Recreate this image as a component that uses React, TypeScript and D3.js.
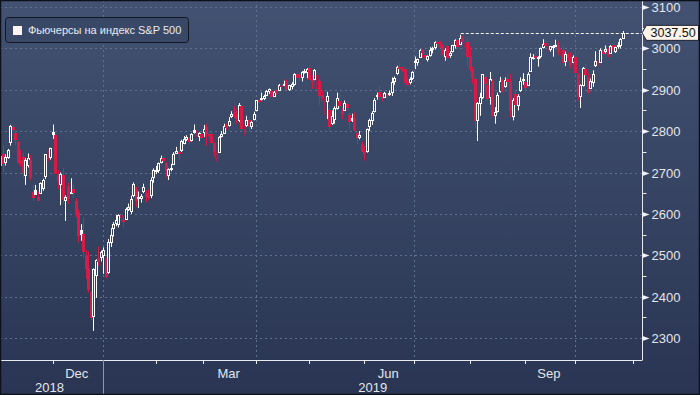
import React from "react";
import * as d3 from "d3";

// S&P 500 futures, daily candles, Nov 2018 - Oct 2019 (one row per month)
const opens = [
  [2717,2745,2726,2738,2774,2810,2795,2773,2730,2737,2693,2718,2730,2654,2657,2640,2650,2663,2692,2737,2737],
  [2797,2790,2693,2672,2695,2633,2667,2653,2660,2630,2604,2560,2551,2500,2468,2410,2352,2452,2494,2496],
  [2500,2490,2460,2533,2565,2578,2576,2592,2584,2588,2612,2608,2645,2660,2640,2638,2655,2650,2645,2645,2688],
  [2705,2706,2725,2736,2722,2695,2712,2720,2748,2750,2755,2772,2782,2784,2778,2803,2794,2788,2793],
  [2797,2810,2793,2792,2771,2735,2750,2788,2796,2814,2815,2836,2846,2840,2826,2860,2805,2815,2828,2812,2830],
  [2850,2875,2880,2881,2888,2896,2898,2886,2897,2900,2911,2913,2920,2903,2908,2914,2938,2935,2932,2944,2944],
  [2952,2927,2926,2905,2920,2888,2870,2873,2850,2820,2830,2856,2872,2850,2852,2865,2840,2832,2832,2795,2785,2770],
  [2752,2752,2812,2826,2848,2885,2895,2884,2883,2888,2893,2895,2920,2940,2955,2952,2950,2920,2918,2928],
  [2970,2968,2980,2995,2985,2975,2985,3000,3003,3016,3014,3008,2982,3005,2983,2994,3008,3020,3010,3026,3005,3016],
  [2982,2950,2925,2826,2868,2883,2930,2912,2882,2921,2840,2848,2898,2922,2910,2925,2922,2837,2890,2864,2900,2925],
  [2919,2912,2945,2978,2982,2976,2982,3004,3012,2995,2998,3005,3008,3010,2985,2995,2970,2986,2982,2968],
  [2980,2938,2885,2912,2950,2930,2905,2918,2960,2965,2968,2994,2993,2999,2990,3007,2994,3005,3008,3025],
].flat();

const highs = [
  [2741,2767,2744,2757,2815,2815,2797,2776,2754,2747,2735,2746,2742,2670,2670,2654,2676,2685,2744,2754,2760],
  [2816,2793,2706,2700,2712,2645,2675,2686,2672,2638,2611,2575,2592,2512,2509,2413,2468,2490,2521,2511],
  [2519,2494,2539,2566,2580,2597,2599,2600,2591,2615,2625,2644,2676,2665,2654,2648,2673,2656,2660,2688,2710],
  [2716,2724,2741,2739,2725,2710,2721,2749,2762,2760,2779,2788,2790,2786,2795,2816,2803,2797,2796],
  [2815,2818,2798,2795,2774,2752,2788,2800,2818,2818,2834,2848,2860,2852,2868,2864,2815,2837,2833,2825,2847],
  [2875,2878,2893,2888,2899,2903,2900,2897,2900,2914,2914,2922,2925,2912,2918,2940,2941,2940,2945,2950,2952],
  [2960,2935,2950,2938,2924,2898,2881,2895,2857,2850,2860,2893,2890,2856,2874,2870,2843,2842,2845,2798,2800,2775],
  [2764,2806,2830,2848,2880,2893,2910,2888,2895,2895,2898,2930,2932,2958,2965,2955,2951,2933,2930,2945],
  [2980,2975,2998,2997,2990,2983,3003,3004,3017,3020,3017,3010,3000,3008,2993,3008,3022,3024,3033,3030,3020,3027],
  [3005,2955,2928,2870,2893,2938,2935,2920,2943,2925,2858,2893,2931,2925,2930,2940,2938,2880,2898,2889,2930,2940],
  [2925,2942,2988,2986,2991,2981,3002,3022,3021,3005,3006,3008,3021,3017,3000,3008,2992,2990,2990,2983],
  [2995,2941,2913,2955,2962,2939,2927,2947,2993,2972,3000,2997,3007,3001,3008,3014,3004,3015,3025,3042],
].flat();

const lows = [
  [2708,2700,2717,2733,2765,2796,2765,2722,2714,2685,2670,2712,2681,2631,2649,2631,2649,2656,2684,2727,2731],
  [2781,2697,2660,2621,2624,2583,2624,2650,2638,2592,2531,2535,2494,2443,2410,2343,2317,2397,2474,2485],
  [2455,2445,2455,2520,2545,2570,2567,2582,2567,2585,2607,2600,2640,2617,2614,2627,2650,2628,2633,2638,2675],
  [2696,2699,2722,2726,2688,2682,2703,2718,2745,2730,2750,2768,2776,2767,2775,2794,2786,2776,2780],
  [2786,2765,2782,2771,2738,2726,2748,2785,2794,2803,2811,2832,2832,2818,2822,2801,2789,2810,2799,2805,2826],
  [2848,2868,2874,2875,2885,2890,2882,2884,2888,2898,2902,2909,2899,2897,2901,2910,2929,2920,2920,2939,2928],
  [2925,2902,2923,2896,2863,2874,2839,2829,2800,2815,2818,2852,2855,2829,2850,2850,2806,2822,2800,2768,2780,2750],
  [2729,2748,2800,2815,2845,2876,2877,2872,2881,2877,2885,2885,2912,2936,2948,2943,2915,2911,2913,2924],
  [2950,2958,2979,2978,2973,2968,2980,2988,2997,3008,3001,2985,2970,2977,2977,2990,3000,3000,3008,3015,2998,2957],
  [2945,2915,2808,2776,2837,2878,2895,2873,2864,2835,2818,2845,2893,2895,2905,2906,2834,2826,2860,2850,2895,2912],
  [2891,2910,2944,2973,2970,2956,2976,3000,3004,2993,2992,2980,3003,2985,2983,2958,2957,2970,2952,2965],
  [2938,2874,2856,2908,2933,2891,2902,2907,2955,2958,2966,2984,2988,2979,2988,2993,2989,2999,3000,3023],
].flat();

const closes = [
  [2740,2723,2738,2755,2813,2806,2781,2726,2722,2702,2730,2736,2690,2641,2649,2633,2674,2682,2744,2738,2760],
  [2793,2700,2683,2696,2635,2640,2638,2654,2653,2600,2550,2551,2510,2469,2418,2351,2467,2489,2487,2509],
  [2512,2449,2533,2550,2576,2586,2598,2597,2583,2611,2617,2637,2672,2634,2639,2643,2665,2644,2641,2682,2705],
  [2707,2723,2736,2731,2706,2709,2710,2745,2752,2746,2777,2780,2785,2775,2794,2797,2794,2795,2786],
  [2806,2793,2791,2773,2751,2746,2786,2794,2813,2810,2825,2842,2840,2832,2862,2808,2806,2826,2812,2823,2842],
  [2875,2874,2881,2886,2898,2902,2886,2895,2894,2912,2911,2913,2905,2911,2913,2938,2931,2930,2944,2946,2950],
  [2927,2921,2948,2936,2888,2883,2874,2884,2813,2837,2855,2881,2862,2843,2867,2859,2824,2828,2804,2785,2790,2753],
  [2746,2805,2828,2845,2875,2888,2886,2880,2893,2890,2891,2919,2928,2955,2952,2947,2919,2915,2926,2944],
  [2966,2975,2997,2991,2978,2981,2995,3000,3016,3015,3006,2986,2997,2979,2988,3007,3021,3005,3026,3019,3014,2982],
  [2952,2931,2826,2867,2882,2937,2917,2881,2925,2840,2846,2887,2922,2898,2923,2920,2850,2876,2865,2886,2922,2924],
  [2906,2938,2978,2980,2979,2980,3001,3010,3008,2998,3005,3006,3007,2993,2992,2968,2986,2978,2962,2978],
  [2942,2888,2912,2953,2938,2894,2920,2939,2969,2966,2996,2989,2998,2986,3006,2995,3004,3009,3022,3037.5],
].flat();

const holidays = ["2018-11-22", "2018-12-25", "2019-01-01", "2019-01-21", "2019-02-18",
  "2019-04-19", "2019-05-27", "2019-07-04", "2019-09-02"];
const yTicks = [2300, 2400, 2500, 2600, 2700, 2800, 2900, 3000, 3100];
const labelMonths = ["Dec", "Mar", "Jun", "Sep"];
const lastPrice = 3037.5;
const legendLabel = "Фьючерсы на индекс S&P 500";

const W = 700;
const H = 395;
const AX = 642.5; // right axis
const AY = 360; // bottom axis
const FONT = "'Liberation Sans', Arial, sans-serif";
const fmtDay = d3.utcFormat("%Y-%m-%d");

// trading calendar (index axis, like the terminal)
const days = d3.utcDays(new Date(Date.UTC(2018, 10, 1)), new Date(Date.UTC(2019, 10, 1)))
  .filter((d) => d.getUTCDay() % 6 !== 0 && !holidays.includes(fmtDay(d)));

export default function App() {
  const x = d3.scaleLinear().domain([0, 248]).range([1.2, 624]);
  const y = d3.scaleLinear().domain([2300, 3100]).range([338, 7]);

  // month boundaries
  const bounds: { i: number; d: Date }[] = [];
  days.forEach((d, i) => {
    if (i > 0 && d.getUTCMonth() !== days[i - 1].getUTCMonth()) bounds.push({ i, d });
  });
  bounds.push({ i: days.length, d: new Date(Date.UTC(2019, 10, 1)) });
  const fmtMon = d3.utcFormat("%b");
  const monthLabels = bounds.slice(0, -1).map((b, k) => {
    const end = bounds[k + 1].i;
    return { name: fmtMon(b.d), mid: (b.i + end - 1) / 2 };
  }).filter((m) => labelMonths.includes(m.name));
  const quarterLines = bounds.filter((b) => b.d.getUTCMonth() % 3 === 0 && b.i < days.length);
  const janX = x(quarterLines[0].i - 0.5);

  const candles = closes.map((c, i) => {
    const o = opens[i];
    const prev = i > 0 ? closes[i - 1] : o;
    const up = c >= prev;
    const filled = c < o;
    const cx = Math.round(x(i));
    let fill = "none";
    let stroke = "#ffffff";
    if (up && filled) fill = "#ffffff";
    if (!up) {
      stroke = filled ? "#d81b46" : "#a02552";
      fill = filled ? "#d81b46" : "#7c2a50";
    }
    const top = Math.round(y(Math.max(o, c)));
    const bot = Math.round(y(Math.min(o, c)));
    return (
      <g key={i}>
        <line x1={cx - 0.5} x2={cx - 0.5} y1={y(highs[i])} y2={y(lows[i])} stroke={up ? "#ffffff" : stroke} strokeWidth={1} />
        <rect x={cx - 1.5} y={top + 0.5} width={2} height={Math.max(bot - top, 1)} fill={fill === "none" ? "#34425f" : fill} stroke={stroke} strokeWidth={1} />
      </g>
    );
  });

  const peakIdx = 183;
  const ly = y(lastPrice);

  return (
    <div style={{ position: "absolute", left: 0, top: 0 }}>
      <svg width={W} height={H} style={{ display: "block" }} fontFamily={FONT}>
        <defs>
          <linearGradient id="bg" x1="0" y1="0" x2="0" y2="1">
            <stop offset="0" stopColor="#435272" />
            <stop offset="1" stopColor="#293552" />
          </linearGradient>
        </defs>
        <rect x={0} y={0} width={W} height={H} fill="url(#bg)" />

        {/* grid */}
        {yTicks.map((t) => (
          <line key={t} x1={0} x2={AX} y1={Math.round(y(t)) + 0.5} y2={Math.round(y(t)) + 0.5}
            stroke="#60718f" strokeDasharray="2,3" strokeWidth={1} />
        ))}
        {quarterLines.map((b) => (
          <line key={b.i} x1={Math.round(x(b.i - 0.5)) + 0.5} x2={Math.round(x(b.i - 0.5)) + 0.5} y1={0} y2={AY}
            stroke="#60718f" strokeDasharray="2,3" strokeWidth={1} />
        ))}

        {candles}

        {/* last price line */}
        <line x1={x(peakIdx)} x2={AX} y1={Math.round(ly) + 0.5} y2={Math.round(ly) + 0.5}
          stroke="#ffffff" strokeDasharray="3,2" strokeWidth={1} />

        {/* axes */}
        <line x1={AX} x2={AX} y1={0} y2={AY} stroke="#e8eaee" strokeWidth={1} />
        <line x1={0} x2={AX} y1={AY + 0.5} y2={AY + 0.5} stroke="#e8eaee" strokeWidth={1} />
        {d3.range(2350, 3100, 100).map((t) => (
          <line key={t} x1={AX} x2={AX + 4} y1={Math.round(y(t)) + 0.5} y2={Math.round(y(t)) + 0.5} stroke="#e8eaee" />
        ))}
        {yTicks.map((t) => {
          const ty = Math.round(y(t)) + 0.5;
          return (
            <g key={t}>
              <path d={`M${AX},${ty - 2.5}L${AX + 7},${ty}L${AX},${ty + 2.5}Z`} fill="#f2f3f5" />
              <text x={AX + 9} y={ty} dy="0.36em" fontSize={13} fill="#e3e6eb">{t}</text>
            </g>
          );
        })}
        {bounds.map((b) => (
          <line key={b.i} x1={Math.round(x(b.i - 0.5)) + 0.5} x2={Math.round(x(b.i - 0.5)) + 0.5} y1={AY} y2={AY + 4} stroke="#e8eaee" />
        ))}
        {monthLabels.map((m) => (
          <text key={m.name} x={x(m.mid) - 1} y={373} dy="0.36em" textAnchor="middle" fontSize={13} fill="#e3e6eb">{m.name}</text>
        ))}
        <line x1={Math.round(janX) + 0.5} x2={Math.round(janX) + 0.5} y1={AY} y2={H} stroke="#8c97ab" />
        <text x={janX / 2 - 2} y={387} dy="0.36em" textAnchor="middle" fontSize={13} fill="#e3e6eb">2018</text>
        <text x={(janX + AX) / 2} y={387} dy="0.36em" textAnchor="middle" fontSize={13} fill="#e3e6eb">2019</text>

        {/* price tag */}
        <path d={`M${AX - 0.5},${ly}L${AX + 4},${ly - 7.5}H${W - 1.5}V${ly + 7.5}H${AX + 4}Z`}
          fill="#fdf3e8" stroke="#1e2330" strokeWidth={1} />
        <text x={AX + 8} y={ly} dy="0.36em" fontSize={12.5} fill="#111">{lastPrice.toFixed(2)}</text>

        {/* legend */}
        <rect x={5.5} y={17.5} width={183} height={25} rx={3} fill="#3a4867" stroke="#121722" />
        <rect x={13} y={26} width={9} height={9} fill="#fff4f1" />
        <text x={28} y={30.5} dy="0.36em" fontSize={11} fill="#e9ebef">{legendLabel}</text>

        <rect x={0.5} y={0.5} width={W - 1} height={H - 1} fill="none" stroke="#0c111b" strokeWidth={1.5} />
      </svg>
    </div>
  );
}
